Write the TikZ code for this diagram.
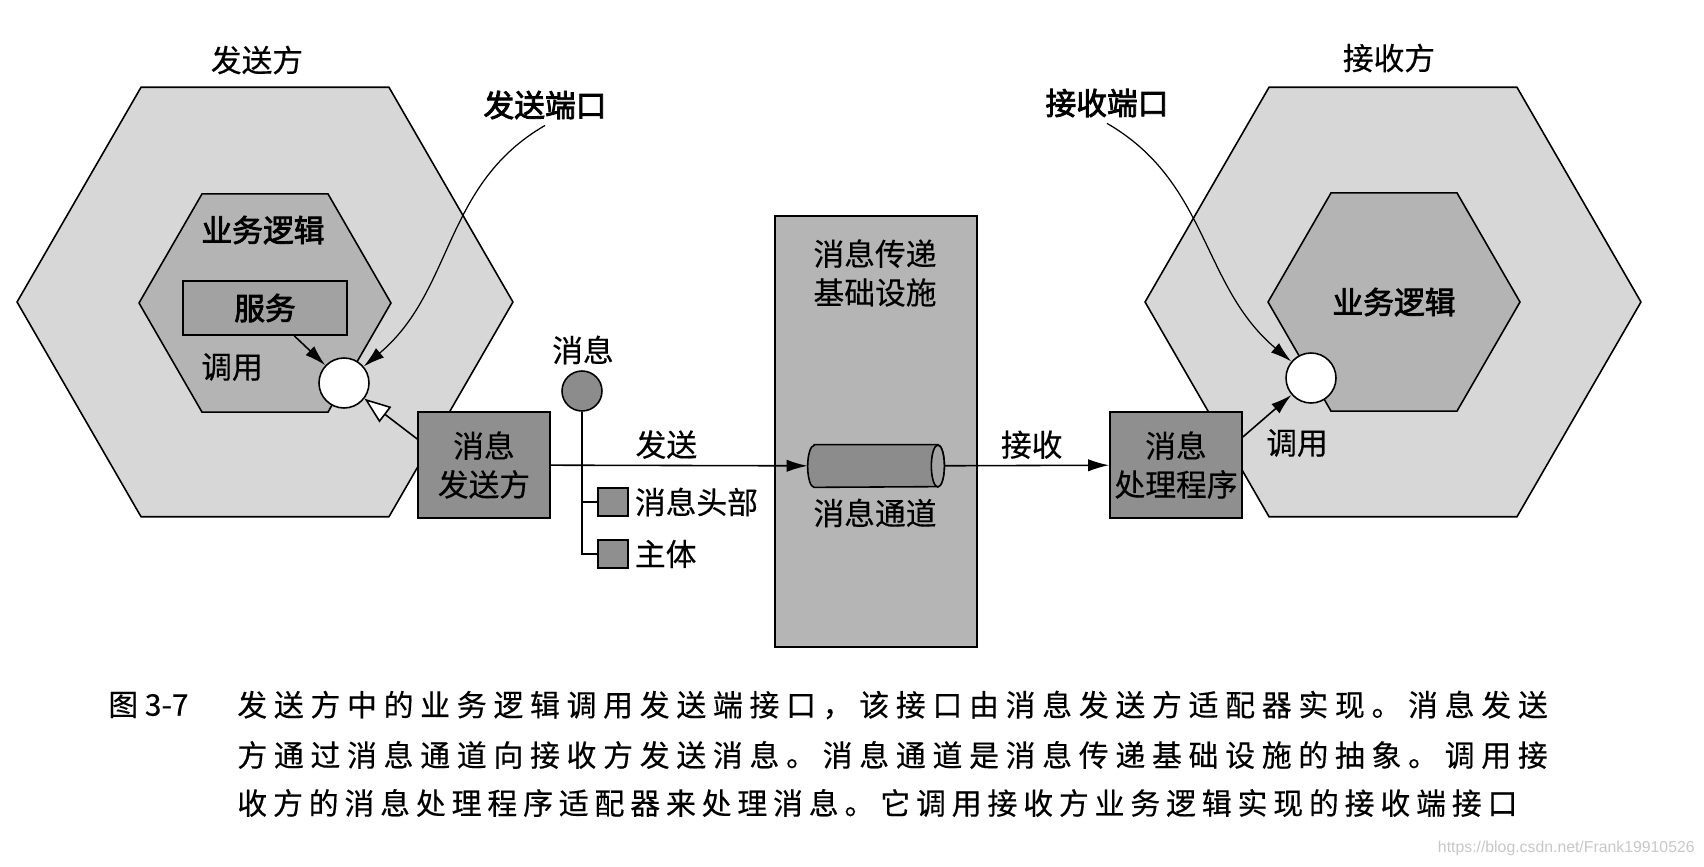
\documentclass[tikz,border=0pt]{standalone}
\usepackage{fontspec}
\setmainfont[FakeBold=0.4]{Noto Sans CJK SC}
\newfontfamily\cjkbold[FakeBold=2.6]{Noto Sans CJK SC}
\newfontfamily\urlfont{Liberation Sans}
\usepackage{tikz}
\usetikzlibrary{positioning}
\usetikzlibrary{shapes,shapes.geometric,arrows,arrows.meta,calc}

\definecolor{hexouter}{HTML}{D7D7D7}
\definecolor{hexinner}{HTML}{B4B4B4}
\definecolor{srvfill}{HTML}{A2A2A2}
\definecolor{adpfill}{HTML}{8F8F8F}
\definecolor{infrafill}{HTML}{B5B5B5}
\definecolor{chanfill}{HTML}{8C8C8C}

\begin{document}
\begin{tikzpicture}[x=0.02cm, y=-0.02cm, >={Latex[length=12pt,width=7pt]},
    every node/.style={font=\fontsize{17.5}{22}\selectfont},
    hexside/.style={regular polygon, regular polygon sides=6, draw, line width=0.9pt, inner sep=0pt, minimum size=9.92cm, fill=hexouter},
    hexcore/.style={regular polygon, regular polygon sides=6, draw, line width=0.9pt, inner sep=0pt, minimum size=5.04cm, fill=hexinner},
    adapter/.style={rectangle, draw, line width=0.9pt, fill=adpfill, minimum width=2.64cm, minimum height=2.12cm, align=center, inner sep=0pt},
    port/.style={circle, draw, line width=0.9pt, fill=white, minimum size=1cm, inner sep=0pt},
    msgpart/.style={rectangle, draw, line width=0.9pt, fill=adpfill, minimum width=0.6cm, minimum height=0.56cm, inner sep=0pt},
    boldlbl/.style={font=\cjkbold\fontsize{17.5}{22}\selectfont},
    capline/.style={anchor=west, inner sep=0pt, font=\fontsize{17}{20}\selectfont}]
  \useasboundingbox (0,0) rectangle (1704,866);

  % sender side
  \node (snd_lbl) at (257,60) {发送方};
  \node[hexside] (snd_hex) at (265,302) {};
  \node[hexcore] (snd_core) at (265,303) {};
  \node[boldlbl] (snd_core_lbl) at (263,230) {业务逻辑};
  \node[rectangle, draw, line width=0.9pt, fill=srvfill, minimum width=3.28cm, minimum height=1.08cm, boldlbl] (srv) at (265,308) {服务};
  \node (snd_call) at (232,367) {调用};
  \node[port] (snd_port) at (344,383) {};
  \node[adapter] (snd_adp) at (484,465) {消息\\发送方};
  \node[boldlbl] (snd_port_lbl) at (545,105) {发送端口};

  % message
  \node (msg_lbl) at (583,350) {消息};
  \node[circle, draw, line width=0.9pt, fill=chanfill, minimum size=0.8cm, inner sep=0pt] (msg) at (582,391) {};
  \node[msgpart] (hdr) at (613,502) {};
  \node[msgpart] (body) at (613,554) {};
  \node[anchor=west] (hdr_lbl) at (hdr.east) {消息头部};
  \node[anchor=west] (body_lbl) at (body.east) {主体};
  \draw[line width=0.9pt] (msg.south) |- (body.west);
  \draw[line width=0.9pt] (msg.south |- hdr.west) -- (hdr.west);

  % messaging infrastructure
  \node[rectangle, draw, line width=0.9pt, fill=infrafill, minimum width=4.04cm, minimum height=8.62cm] (infra) at (876,431.5) {};
  \node[align=center] (infra_lbl) at (875,273) {消息传递\\基础设施};
  \node[minimum width=2.72cm, minimum height=0.84cm, inner sep=0pt] (chan) at (876,466) {};
  \draw[line width=0.9pt, fill=chanfill] ([xshift=0.13cm]chan.north west) -- ([xshift=-0.13cm]chan.north east)
    arc[start angle=90, end angle=-90, x radius=0.13cm, y radius=0.42cm] -- ([xshift=0.13cm]chan.south west)
    arc[start angle=270, end angle=90, x radius=0.13cm, y radius=0.42cm] -- cycle;
  \draw[line width=0.9pt, fill=chanfill!80!white] ([xshift=-0.13cm]chan.east) ellipse [x radius=0.13cm, y radius=0.42cm];
  \node (chan_lbl) at (875,513) {消息通道};

  % receiver side
  \node (rcv_lbl) at (1389,58) {接收方};
  \node[hexside] (rcv_hex) at (1393,302) {};
  \node[hexcore, boldlbl] (rcv_core) at (1394,302) {业务逻辑};
  \node[port] (rcv_port) at (1311,378) {};
  \node[adapter] (rcv_adp) at (1176,465) {消息\\处理程序};
  \node (rcv_call) at (1297,443) {调用};
  \node[boldlbl] (rcv_port_lbl) at (1107,103) {接收端口};

  \path[->, line width=0.9pt]
    (srv) edge (snd_port)
    (snd_adp) edge node[above, pos=0.45] (send_lbl) {发送} (chan)
    (chan) edge node[above, pos=0.53] (recv_lbl) {接收} (rcv_adp)
    ([yshift=0.56cm]rcv_adp.east) edge (rcv_port);
  \path[-{Triangle[fill=white, length=15pt, width=11pt]}, line width=0.9pt]
    ([yshift=0.52cm]snd_adp.west) edge (snd_port);
  \path[->, line width=0.7pt]
    (snd_port_lbl.south) edge[out=210, in=40] (snd_port)
    (rcv_port_lbl.south) edge[out=-30, in=140] (rcv_port);

  % caption
  \node[capline] (cap_no) at (108,705) {图\ 3-7};
  \node[capline] (cap_1) at (237,705) {\addfontfeature{LetterSpace=22.5}发送方中的业务逻辑调用发送端接口，该接口由消息发送方适配器实现。消息发送};
  \node[capline] (cap_2) at (237,755) {\addfontfeature{LetterSpace=22.5}方通过消息通道向接收方发送消息。消息通道是消息传递基础设施的抽象。调用接};
  \node[capline] (cap_3) at (237,803) {\addfontfeature{LetterSpace=19.6}收方的消息处理程序适配器来处理消息。它调用接收方业务逻辑实现的接收端接口};
  \node[anchor=east, inner sep=0pt, text=black!22, font=\urlfont\fontsize{9}{10}\selectfont] (wm) at (1695,848) {https://blog.csdn.net/Frank19910526};
\end{tikzpicture}
\end{document}
